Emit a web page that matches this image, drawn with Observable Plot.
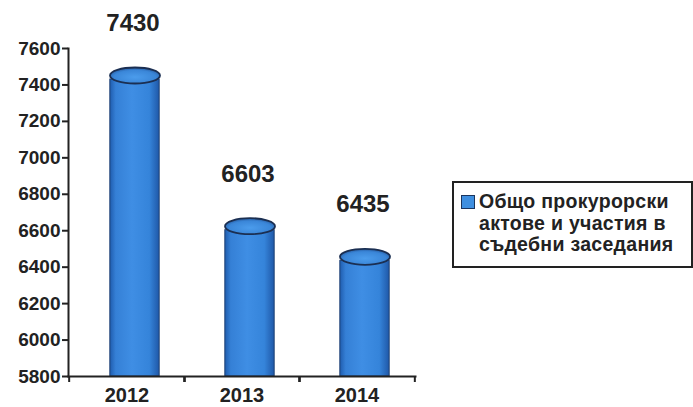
<!DOCTYPE html>
<html>
<head>
<meta charset="utf-8">
<script src="https://cdn.jsdelivr.net/npm/d3@7"></script>
<script src="https://cdn.jsdelivr.net/npm/@observablehq/plot@0.6"></script>
<style>
  html, body { margin: 0; padding: 0; background: #fff; }
  #wrap { position: relative; width: 693px; height: 407px; font-family: "Liberation Sans", Arial, sans-serif; }
  #legend {
    position: absolute; left: 452px; top: 181px; width: 237px; height: 83px;
    border: 2px solid #222; display: flex; align-items: flex-start; padding: 0;
    box-sizing: content-box;
  }
  #legend .sw { width: 14px; height: 14px; background: #3f8fe0; border: 1.5px solid #1b355e; margin: 12px 4px 0 7px; flex: none; box-sizing: border-box; }
  #legend .tx { font-weight: bold; font-size: 19.5px; line-height: 21.5px; color: #222; margin-top: 8px; letter-spacing: 0.3px; white-space: nowrap; }
</style>
</head>
<body>
<div id="wrap"></div>
<script>
const years = ["2012", "2013", "2014"];
const values = [7430, 6603, 6435];
const yTicks = [5800, 6000, 6200, 6400, 6600, 6800, 7000, 7200, 7400, 7600];
const seriesName = "Общо прокурорски актове и участия в съдебни заседания";

const data = years.map((y, i) => ({year: y, value: values[i]}));

// ellipse symbol for cylinder tops
const ellipse = {
  draw(context) {
    const rx = 25, ry = 8, k = 0.5523;
    context.moveTo(-rx, 0);
    context.bezierCurveTo(-rx, -ry * k, -rx * k, -ry, 0, -ry);
    context.bezierCurveTo(rx * k, -ry, rx, -ry * k, rx, 0);
    context.bezierCurveTo(rx, ry * k, rx * k, ry, 0, ry);
    context.bezierCurveTo(-rx * k, ry, -rx, ry * k, -rx, 0);
    context.closePath();
  }
};

const bw = (415 - 68) / 3;
const inset = (bw - 50) / 2;
const shift = 8;

const chart = Plot.plot({
  width: 693,
  height: 407,
  marginLeft: 68,
  marginRight: 278,
  marginTop: 48,
  marginBottom: 31,
  style: {fontFamily: "'Liberation Sans', Arial, sans-serif", background: "transparent", color: "#222"},
  x: {domain: years, padding: 0},
  y: {domain: [5800, 7600]},
  marks: [
    Plot.barY(data, {x: "year", y1: 5800, y2: "value", fill: "url(#cylGrad)", stroke: "#1d3f73", strokeWidth: 1, insetLeft: inset, insetRight: inset, dx: shift}),
    Plot.dot(data, {x: "year", y: "value", symbol: ellipse, r: 5, fill: "url(#topGrad)", stroke: "#1b2f52", strokeWidth: 1.8, dx: shift, dy: -4}),
    Plot.text(data, {x: "year", y: "value", text: d => String(d.value), dy: -56, dx: 6, fontSize: 24, fontWeight: "bold", fill: "#222", letterSpacing: 0.5}),
    Plot.frame({anchor: "left", stroke: "#222", strokeWidth: 2}),
    Plot.frame({anchor: "bottom", stroke: "#222", strokeWidth: 2}),
    Plot.axisY({ticks: yTicks, tickFormat: d => String(d), tickSize: 6, tickPadding: 2, fontSize: 19, fontWeight: "bold", stroke: "#222", strokeWidth: 2, label: null, fill: "#222", letterSpacing: 0.3}),
    Plot.axisX({tickSize: 6, dx: -bw / 2, tickFormat: () => "", label: null, stroke: "#222", strokeWidth: 2}),
    Plot.axisX({tickSize: 6, dx: bw / 2, tickFormat: () => "", label: null, stroke: "#222", strokeWidth: 2}),
    Plot.axisX({tickSize: 0, tickPadding: 11, fontSize: 20, fontWeight: "bold", label: null, fill: "#222", letterSpacing: 0.3})
  ]
});

// gradients
const ns = "http://www.w3.org/2000/svg";
const defs = document.createElementNS(ns, "defs");
defs.innerHTML = `
  <linearGradient id="cylGrad" x1="0" x2="1" y1="0" y2="0">
    <stop offset="0" stop-color="#1f5cae"/>
    <stop offset="0.12" stop-color="#3580d6"/>
    <stop offset="0.45" stop-color="#3f8ee4"/>
    <stop offset="0.8" stop-color="#3584da"/>
    <stop offset="1" stop-color="#1f58a8"/>
  </linearGradient>
  <radialGradient id="topGrad" cx="0.5" cy="0.6" r="0.6">
    <stop offset="0" stop-color="#4b9cec"/>
    <stop offset="0.7" stop-color="#3a86d8"/>
    <stop offset="1" stop-color="#25599e"/>
  </radialGradient>`;
chart.insertBefore(defs, chart.firstChild);

const wrap = document.getElementById("wrap");
wrap.appendChild(chart);

const legend = document.createElement("div");
legend.id = "legend";
legend.innerHTML = `<div class="sw"></div><div class="tx">Общо прокурорски<br>актове и участия в<br>съдебни заседания</div>`;
legend.setAttribute("aria-label", seriesName);
wrap.appendChild(legend);
</script>
</body>
</html>
